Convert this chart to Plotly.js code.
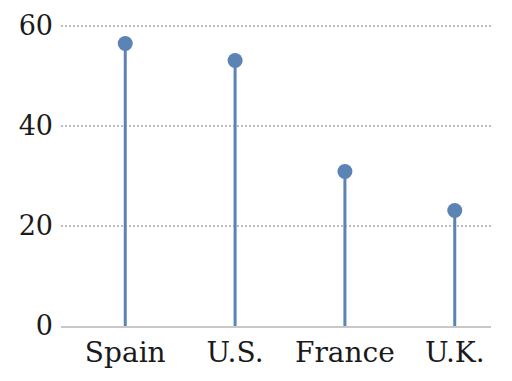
<!DOCTYPE html>
<html>
<head>
<meta charset="utf-8">
<script src="https://cdn.plot.ly/plotly-3.0.1.min.js"></script>
<style>html,body{margin:0;padding:0;background:#fff;}#chart{width:512px;height:381px;}</style>
</head>
<body>
<div id="chart"></div>
<script>
var countries = ["Spain", "U.S.", "France", "U.K."];
var values = [56.5, 53.1, 30.9, 23.1];
var yTicks = [0, 20, 40, 60];

var stemX = [], stemY = [];
for (var i = 0; i < countries.length; i++) {
  stemX.push(countries[i], countries[i], null);
  stemY.push(0, values[i], null);
}
var col = "#5b83b3";
var data = [
  {x: stemX, y: stemY, type: "scatter", mode: "lines", line: {color: col, width: 3}, hoverinfo: "skip", connectgaps: false},
  {x: countries, y: values, type: "scatter", mode: "markers", marker: {color: col, size: 15}}
];
var yfont = {family: "DejaVu Serif, Georgia, serif", size: 27, color: "#1a1a1a"};
var xfont = {family: "DejaVu Serif, Georgia, serif", size: 28, color: "#1a1a1a"};
var layout = {
  width: 512, height: 381,
  margin: {l: 61, r: 21, t: 24, b: 55},
  showlegend: false,
  paper_bgcolor: "#fff", plot_bgcolor: "#fff",
  font: yfont,
  xaxis: {type: "category", range: [-0.585, 3.33], showgrid: false, zeroline: false,
          showline: true, linecolor: "#c8c8c8", linewidth: 2, ticks: "", tickfont: xfont, ticklen: 0},
  yaxis: {range: [0, 60.4], tickvals: yTicks, ticktext: yTicks.map(String), showgrid: true,
          gridcolor: "#bdbdbd", griddash: "2px,2px", gridwidth: 1.2, zeroline: false, showline: false,
          ticks: "", tickfont: yfont, ticklabelstandoff: 7}
};
Plotly.newPlot("chart", data, layout, {displayModeBar: false, staticPlot: true});
</script>
</body>
</html>
